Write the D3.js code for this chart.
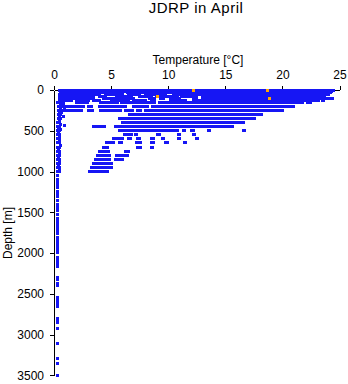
<!DOCTYPE html>
<html>
<head>
<meta charset="utf-8">
<script src="https://cdn.jsdelivr.net/npm/d3@7"></script>
<style>
  html, body { margin: 0; padding: 0; background: #fff; }
  svg { display: block; }
  text { font-family: "Liberation Sans", Arial, Helvetica, sans-serif; fill: #000; }
</style>
</head>
<body>
<svg id="chart" width="348" height="384"></svg>
<script>
// ---------------- data ----------------
const titleText = "JDRP in April";
const xLabel = "Temperature [°C]";
const yLabel = "Depth [m]";
const xTicks = [0, 5, 10, 15, 20, 25];
const yTicks = [0, 500, 1000, 1500, 2000, 2500, 3000, 3500];

// standard depths (m) at which many profiles were sampled
const bandDepths = [0, 10, 20, 30, 50, 75, 100, 125, 150, 200, 250, 300, 350, 400, 450, 500,
                    550, 600, 650, 700, 750, 800, 850, 900, 950, 1000];
// runs of densely packed temperature observations (°C) at each standard depth
const bandRuns = [
  [[0.5,2.8],[3.5,5.0],[6.6,9.0],[9.5,12.5],[13.0,13.5],[14.5,24.5]],
  [[0.6,4.5],[5.0,24.4]],
  [[0.6,2.0],[2.4,5.5],[6.0,7.2],[7.8,10.0],[10.4,24.3]],
  [[0.6,1.5],[1.9,3.8],[4.2,6.0],[6.4,8.8],[9.3,11.0],[11.5,24.2]],
  [[0.5,4.0],[4.5,6.0],[6.5,7.5],[8.0,9.8],[10.5,24.0]],
  [[0.5,3.5],[4.0,4.5],[5.5,6.8],[7.5,8.5],[9.0,10.8],[11.2,12.5],[13.0,23.7]],
  [[0.5,3.5],[4.3,5.1],[5.4,7.0],[8.4,8.8],[9.3,9.6],[10.2,11.0],[12.2,12.5],[13.0,24.0],[24.2,24.4]],
  [[0.5,1.5],[2.0,3.0],[3.5,4.0],[5.0,6.5],[7.0,8.0],[8.5,8.8],[10.2,10.8],[10.9,11.5],[12.2,21.9],[22.1,23.2],[23.5,23.6]],
  [[0.3,0.8],[2.0,2.9],[4.1,5.6],[5.9,6.7],[7.0,8.5],[8.6,8.8],[9.2,9.6],[9.8,10.1],[10.3,10.5],[10.6,12.6],[12.8,21.8],[22.2,22.5]],
  [[0.4,0.6],[0.8,1.9],[2.1,2.6],[3.0,3.3],[4.0,4.3],[4.5,5.1],[5.4,6.3],[7.0,7.3],[7.6,8.2],[8.6,21.0]],
  [[0.4,0.8],[0.9,2.4],[3.0,3.4],[4.1,5.8],[6.3,6.9],[7.3,7.6],[8.0,8.6],[8.8,19.1],[19.3,19.5],[19.7,20.0]],
  [[0.4,0.6],[6.6,6.8],[7.0,18.2]],
  [[0.4,0.6],[5.7,17.6]],
  [[0.3,0.5],[6.0,16.6]],
  [[0.3,0.5],[3.5,3.8],[4.1,4.4],[5.4,15.6]],
  [[0.3,0.5],[5.7,8.6],[8.7,9.3],[9.6,10.8],[11.3,11.4],[12.0,12.2],[13.5,13.6],[16.6,16.7]],
  [[0.3,0.5],[6.2,6.8],[7.1,7.2],[9.1,9.2],[10.9,11.0],[12.2,12.3]],
  [[0.3,0.5],[5.2,6.0],[6.5,6.7],[7.3,7.5],[8.5,8.7],[9.5,9.6],[10.9,11.0],[12.5,12.6]],
  [[0.3,0.5],[4.6,5.2],[5.7,5.9],[7.2,7.6],[8.5,8.7],[9.8,9.9],[11.4,11.5]],
  [[0.3,0.5],[4.3,4.7],[7.3,7.6],[8.5,8.6]],
  [[0.3,0.5],[4.0,4.8],[6.3,6.5]],
  [[0.3,0.5],[3.8,4.5],[4.7,4.9],[5.5,5.8],[6.0,6.4]],
  [[0.3,0.5],[3.6,4.3],[4.6,4.9],[5.4,6.0]],
  [[0.3,0.5],[3.5,3.8],[4.0,4.4],[4.7,5.0]],
  [[0.3,0.5],[3.3,4.1],[4.3,5.0]],
  [[0.3,0.5],[3.1,4.1],[4.3,4.7]]
];

// individual observations (temperature °C, depth m)
const pointTemp = [1.2,1.0,0.8,0.9,0.7,0.6,0.8,0.6,0.9,0.5,0.7,0.5,0.8,0.5,0.6,0.9,0.4,0.6,0.4,0.5,0.4,0.5,0.6,0.4,0.5,0.4,0.5,0.4,0.5,
  0.3,0.35,0.3,0.3,0.3,0.35,0.3,0.3,0.3,0.35,0.3,0.3,0.3,0.35,0.3,0.3,0.3,0.35,0.3,0.3,0.3,0.35,0.3,0.3,0.3,0.3,0.3,0.3,0.3,
  0.3,0.3,0.3,0.3,0.3,0.3,0.35,0.3,0.3,0.3,0.3,0.3,0.3,0.3,0.3,0.3,0.3];
const pointDepth = [60,90,110,130,160,175,185,225,230,275,280,325,330,375,420,430,475,480,525,560,590,620,680,720,780,820,870,920,980,
  1050,1100,1130,1160,1190,1250,1280,1310,1360,1400,1440,1480,1530,1580,1610,1650,1690,1720,1760,1810,1850,1880,1920,1960,1990,2060,2090,2130,2170,
  2300,2330,2370,2400,2540,2570,2600,2630,2660,2800,2830,2850,2930,3110,3290,3360,3500];

// highlighted observations (orange)
const highlightTemp = [12.2, 9.1, 18.7, 18.9];
const highlightDepth = [0, 80, 10, 100];

// ---------------- chart ----------------
const svg = d3.select("#chart");
const x = d3.scaleLinear().domain([0, 25]).range([54, 339.5]);
const y = d3.scaleLinear().domain([0, 3500]).range([90, 375.3]);
const blue = "#1616f4", orange = "#ffa500";
const ms = 3;

// axes first, marks drawn over them
const xAxis = d3.axisTop(x).tickValues(xTicks).tickFormat(d3.format("d")).tickSize(4).tickSizeOuter(0).tickPadding(7);
const yAxis = d3.axisLeft(y).tickValues(yTicks).tickFormat(d3.format("d")).tickSize(4).tickSizeOuter(0).tickPadding(6);
const gx = svg.append("g").attr("transform", "translate(0,90)").call(xAxis);
const gy = svg.append("g").attr("transform", "translate(54,0)").call(yAxis);
[gx, gy].forEach(g => {
  g.selectAll("path, line").attr("stroke", "#000").attr("shape-rendering", "crispEdges");
  g.selectAll("text").attr("font-size", 12).attr("font-family", "Liberation Sans, Arial, sans-serif").attr("fill", "#000");
});

const bands = [];
bandDepths.forEach((d, i) => bandRuns[i].forEach(r => bands.push({d, t0: r[0], t1: r[1]})));

const plot = svg.append("g");
plot.selectAll("rect.band").data(bands).join("rect")
  .attr("class", "band")
  .attr("x", b => x(b.t0) - ms / 2)
  .attr("width", b => x(b.t1) - x(b.t0) + ms)
  .attr("y", b => y(b.d) - ms / 2)
  .attr("height", ms)
  .attr("fill", blue)
  .attr("shape-rendering", "crispEdges");

const pts = pointTemp.map((t, i) => ({t, d: pointDepth[i]}));
plot.selectAll("rect.pt").data(pts).join("rect")
  .attr("class", "pt")
  .attr("x", p => x(p.t) - ms / 2)
  .attr("y", p => y(p.d) - ms / 2)
  .attr("width", ms).attr("height", ms)
  .attr("fill", blue)
  .attr("shape-rendering", "crispEdges");

const hl = highlightTemp.map((t, i) => ({t, d: highlightDepth[i]}));
plot.selectAll("rect.hl").data(hl).join("rect")
  .attr("class", "hl")
  .attr("x", p => x(p.t) - ms / 2)
  .attr("y", p => y(p.d) - ms / 2)
  .attr("width", ms).attr("height", ms)
  .attr("fill", orange)
  .attr("shape-rendering", "crispEdges");

// labels
svg.append("text").attr("x", 196).attr("y", 13).attr("text-anchor", "middle")
  .attr("font-size", 15).attr("letter-spacing", 0.5).text(titleText);
svg.append("text").attr("x", 198).attr("y", 64).attr("text-anchor", "middle")
  .attr("font-size", 12).text(xLabel);
svg.append("text").attr("transform", "translate(12,233) rotate(-90)").attr("text-anchor", "middle")
  .attr("font-size", 12).text(yLabel);
</script>
</body>
</html>
